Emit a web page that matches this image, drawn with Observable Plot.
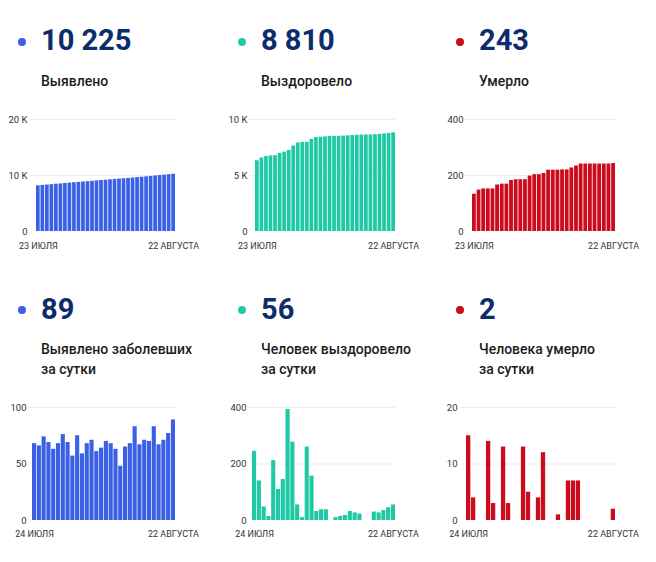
<!DOCTYPE html>
<html><head><meta charset="utf-8">
<script src="https://cdn.jsdelivr.net/npm/d3@7"></script>
<script src="https://cdn.jsdelivr.net/npm/@observablehq/plot@0.6"></script>
<style>
html,body{margin:0;padding:0;background:#fff;}
#root{position:relative;width:656px;height:562px;overflow:hidden;font-family:Roboto,sans-serif;}
.cell{position:absolute;}
#hdr{position:absolute;left:0;top:0;pointer-events:none;}
</style></head><body><div id="root"></div>
<script>
// ---- categories ----
const topDays = ["23.07","24.07","25.07","26.07","27.07","28.07","29.07","30.07","31.07",
  "01.08","02.08","03.08","04.08","05.08","06.08","07.08","08.08","09.08","10.08","11.08",
  "12.08","13.08","14.08","15.08","16.08","17.08","18.08","19.08","20.08","21.08","22.08"];
const bottomDays = ["24.07","25.07","26.07","27.07","28.07","29.07","30.07","31.07",
  "01.08","02.08","03.08","04.08","05.08","06.08","07.08","08.08","09.08","10.08","11.08",
  "12.08","13.08","14.08","15.08","16.08","17.08","18.08","19.08","20.08","21.08","22.08"];
const topTickLabels = ["23 ИЮЛЯ", "22 АВГУСТА"];
const bottomTickLabels = ["24 ИЮЛЯ", "22 АВГУСТА"];

// ---- series ----
const cumCases = [8157,8225,8291,8365,8434,8497,8565,8641,8710,8767,8842,8901,8969,9040,9101,9165,
  9235,9303,9366,9414,9479,9547,9630,9697,9768,9838,9921,9988,10059,10136,10225];
const cumRecovered = [6319,6564,6704,6752,6766,6978,7088,7233,7626,7903,7958,7968,8228,8385,8417,8455,
  8493,8493,8503,8518,8536,8568,8595,8618,8618,8618,8648,8675,8710,8755,8810];
const cumDeaths = [133,148,152,152,152,166,169,169,182,185,185,185,198,203,203,207,
  219,219,219,220,220,227,234,241,241,241,241,241,241,241,243];
const dailyCases = [68,66,74,69,63,68,76,69,57,75,59,68,71,61,64,70,68,63,48,65,68,83,67,71,70,83,67,71,77,89];
const dailyRecovered = [245,140,48,14,212,110,145,393,277,55,10,260,157,32,38,38,0,10,15,18,32,27,23,0,0,30,27,35,45,55];
const dailyDeaths = [15,4,0,0,14,3,0,13,3,0,0,13,5,0,4,12,0,0,1,0,7,7,7,0,0,0,0,0,0,2];

// ---- headline numbers & labels ----
const headNumbers = ["10 225", "8 810", "243", "89", "56", "2"];
const headLabels = [["Выявлено"], ["Выздоровело"], ["Умерло"],
  ["Выявлено заболевших", "за сутки"], ["Человек выздоровело", "за сутки"], ["Человека умерло", "за сутки"]];
const yTicksList = [[0,10000,20000],[0,5000,10000],[0,200,400],[0,50,100],[0,200,400],[0,10,20]];

const BLUE = "#3a60e6", TEAL = "#1fc9a5", RED = "#cc0b1c", NAVY = "#0c2c6e";
const colors = [BLUE, TEAL, RED, BLUE, TEAL, RED];

const root = document.getElementById("root");
const fmt = d => d >= 1000 ? (d/1000) + " K" : String(d);

function chart(cfg) {
  const data = cfg.days.map((d, i) => ({day: d, value: cfg.values[i]}));
  const first = cfg.days[0], last = cfg.days[cfg.days.length - 1];
  return Plot.plot({
    width: cfg.width, height: 152,
    marginLeft: cfg.gridStart, marginRight: cfg.width - cfg.barEnd,
    marginTop: 14, marginBottom: cfg.mb,
    style: {fontFamily: "Roboto, sans-serif", fontSize: "9px", color: "#333", background: "transparent", overflow: "visible"},
    x: {type: "band", domain: cfg.days, paddingInner: cfg.pad, paddingOuter: 0, round: false, insetLeft: cfg.barStart - cfg.gridStart, axis: null, label: null},
    y: {domain: [0, cfg.yTicks[cfg.yTicks.length - 1]], axis: null, label: null},
    marks: [
      Plot.ruleY(cfg.yTicks.slice(1), {stroke: "#ececec", strokeWidth: 1}),
      Plot.barY(data, {x: "day", y: "value", fill: cfg.color}),
      Plot.axisY({ticks: cfg.yTicks, tickSize: 0, tickPadding: cfg.gridStart - cfg.labelRight, tickFormat: fmt, fill: "#333", fontSize: 9.5, label: null}),
      Plot.axisX({ticks: [first, last], tickSize: 0, tickPadding: cfg.tp, fill: "#333", fontSize: 9, label: null,
        tickFormat: d => d === first ? cfg.tickLabels[0] : cfg.tickLabels[1]})
    ]
  });
}

const cells = [
  {left: 0,   top: 105, days: topDays, values: cumCases, tickLabels: topTickLabels, width: 205, labelRight: 27, gridStart: 29, barStart: 36, barEnd: 175, mb: 26, tp: 11, pad: 0.18},
  {left: 220, top: 105, days: topDays, values: cumRecovered, tickLabels: topTickLabels, width: 205, labelRight: 27, gridStart: 29, barStart: 35, barEnd: 175, mb: 26, tp: 11, pad: 0.18},
  {left: 436, top: 105, days: topDays, values: cumDeaths, tickLabels: topTickLabels, width: 215, labelRight: 27, gridStart: 29, barStart: 36, barEnd: 179, mb: 26, tp: 11, pad: 0.18},
  {left: 0,   top: 393, days: bottomDays, values: dailyCases, tickLabels: bottomTickLabels, width: 205, labelRight: 26, gridStart: 28, barStart: 32, barEnd: 175, mb: 25, tp: 10, pad: 0.14},
  {left: 220, top: 393, days: bottomDays, values: dailyRecovered, tickLabels: bottomTickLabels, width: 205, labelRight: 26, gridStart: 28, barStart: 32, barEnd: 175, mb: 25, tp: 10, pad: 0.14},
  {left: 436, top: 393, days: bottomDays, values: dailyDeaths, tickLabels: bottomTickLabels, width: 215, labelRight: 21, gridStart: 24, barStart: 30, barEnd: 179, mb: 25, tp: 10, pad: 0.14}
];

cells.forEach((c, i) => {
  const div = document.createElement("div");
  div.className = "cell";
  div.style.left = c.left + "px";
  div.style.top = c.top + "px";
  div.appendChild(chart({...c, yTicks: yTicksList[i], color: colors[i]}));
  root.appendChild(div);
});

// ---- headers ----
const svg = d3.select(root).append("svg").attr("id", "hdr").attr("width", 656).attr("height", 562);
const colX = [0, 220, 438];
const rowBase = [{dotY: 42, numY: 50, labY: 86}, {dotY: 310, numY: 319, labY: 354}];
headNumbers.forEach((n, i) => {
  const cx = colX[i % 3], r = rowBase[Math.floor(i / 3)];
  svg.append("circle").attr("cx", cx + 22).attr("cy", r.dotY).attr("r", 4).attr("fill", colors[i]);
  svg.append("text").attr("x", cx + 41).attr("y", r.numY).attr("fill", NAVY)
    .attr("font-family", "Roboto, sans-serif").attr("font-weight", 700).attr("font-size", 29).text(n);
  headLabels[i].forEach((t, j) => {
    svg.append("text").attr("x", cx + 41).attr("y", r.labY + j * 20).attr("fill", "#1c1c1c")
      .attr("font-family", "Roboto, sans-serif").attr("font-weight", 500).attr("font-size", 14).text(t);
  });
});
</script></body></html>
